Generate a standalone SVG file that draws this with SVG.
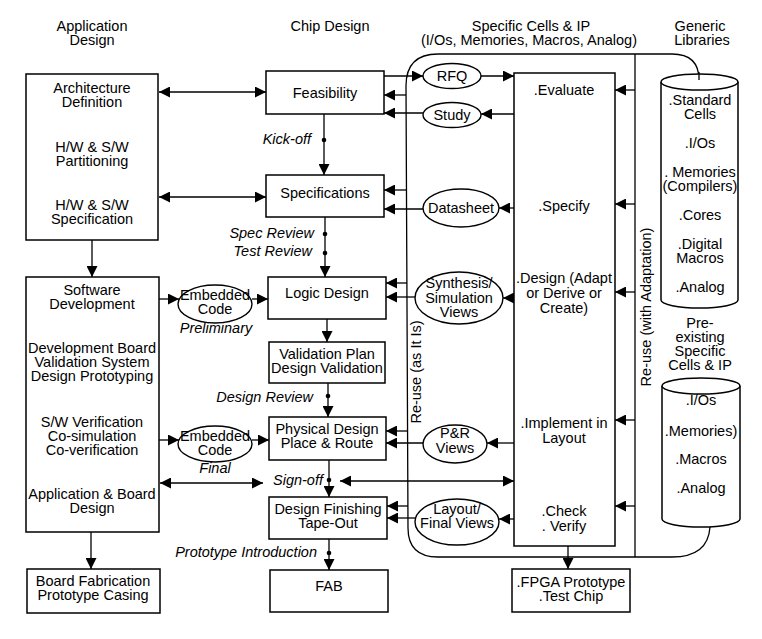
<svg xmlns="http://www.w3.org/2000/svg" width="762" height="639" viewBox="0 0 762 639">
<defs>
<marker id="ah" viewBox="0 0 11 11" refX="11" refY="5.5" markerWidth="11" markerHeight="11" markerUnits="userSpaceOnUse" orient="auto-start-reverse"><path d="M0,0 L11,5.5 L0,11 z" fill="#000"/></marker>
</defs>
<style>
text{font-family:"Liberation Sans",Arial,Helvetica,sans-serif;font-size:14.5px;fill:#000;text-anchor:middle}
.it{font-style:italic;text-anchor:end}
.itc{font-style:italic}
.box{fill:#fff;stroke:#000;stroke-width:1.5}
.el{fill:#fff;stroke:#000;stroke-width:1.4}
.ln{fill:none;stroke:#000;stroke-width:1.3}
.ar{fill:none;stroke:#000;stroke-width:1.3;marker-end:url(#ah)}
.da{fill:none;stroke:#000;stroke-width:1.3;marker-start:url(#ah);marker-end:url(#ah)}
.dot{fill:#000}
</style>
<rect width="762" height="639" fill="#fff"/>

<g id="headers">
<text x="92" y="31">Application</text><text x="92" y="45">Design</text>
<text x="330" y="31">Chip Design</text>
<text x="531" y="31">Specific Cells &amp; IP</text><text x="529" y="45">(I/Os, Memories, Macros, Analog)</text>
<text x="700" y="31">Generic</text><text x="702" y="45">Libraries</text>
</g>

<g id="connectors">
<path class="ln" d="M406 86 Q406 54 438 54 L672 54 Q699 54 699 80"/>
<path class="ln" d="M406 86 L408 528 Q408 557 438 557 L672 557 Q708 557 710 527"/>
<path class="ln" d="M635 54 L635 557"/>
<path class="ar" d="M324 114 L324 175"/>
<path class="ar" d="M325 217 L325 277"/>
<path class="ar" d="M327 319 L327 342"/>
<path class="ar" d="M328 383 L328 417"/>
<path class="ar" d="M329 460 L329 497"/>
<path class="ar" d="M329 539 L329 570"/>
<circle class="dot" cx="324" cy="140" r="2.3"/>
<circle class="dot" cx="325" cy="234" r="2.3"/>
<circle class="dot" cx="325" cy="253" r="2.3"/>
<circle class="dot" cx="328" cy="396" r="2.3"/>
<circle class="dot" cx="329" cy="480" r="2.3"/>
<circle class="dot" cx="329" cy="553" r="2.3"/>
<path class="ar" d="M92 240 L92 277"/>
<path class="ar" d="M91 532 L91 569"/>
<path class="da" d="M159 92 L266 92"/>
<path class="da" d="M159 197 L266 197"/>
<path class="da" d="M160 483 L263 483"/>
<path class="ar" d="M159 299 L179 299"/>
<path class="ar" d="M252 299 L268 299"/>
<path class="ar" d="M159 440 L179 440"/>
<path class="ar" d="M252 440 L269 440"/>
<path class="ar" d="M384 76 L423 76"/>
<path class="ar" d="M481 76 L514 76"/>
<path class="ar" d="M406 95 L384 95"/>
<path class="ar" d="M514 114 L481 114"/>
<path class="ar" d="M423 113 L384 113"/>
<path class="ar" d="M406 190 L384 190"/>
<path class="ar" d="M514 208 L499 208"/>
<path class="ar" d="M423 209 L384 209"/>
<path class="ar" d="M407 283 L386 283"/>
<path class="ar" d="M514 298 L503 298"/>
<path class="ar" d="M415 297 L386 297"/>
<path class="ar" d="M408 431 L386 431"/>
<path class="ar" d="M514 443 L487 443"/>
<path class="ar" d="M423 443 L386 443"/>
<path class="ar" d="M408 506 L387 506"/>
<path class="ar" d="M514 519 L499 519"/>
<path class="ar" d="M415 518 L387 518"/>
<path class="da" d="M340 481 L514 481"/>
<path class="ar" d="M635 90 L615 90"/>
<path class="ar" d="M635 204 L615 204"/>
<path class="ar" d="M635 292 L615 292"/>
<path class="ar" d="M635 420 L615 420"/>
<path class="ar" d="M635 506 L615 506"/>
<path class="ar" d="M568 546 L568 569"/>
</g>

<g id="labels">
<text class="it" x="311" y="144">Kick-off</text>
<text class="it" x="314" y="238">Spec Review</text>
<text class="it" x="312" y="256">Test Review</text>
<text class="itc" x="216" y="333">Preliminary</text>
<text class="it" x="313" y="402">Design Review</text>
<text class="itc" x="215" y="473">Final</text>
<text class="it" x="323" y="485">Sign-off</text>
<text class="it" x="317" y="557">Prototype Introduction</text>
<text transform="translate(421,372) rotate(-90)">Re-use (as It Is)</text>
<text transform="translate(651,307) rotate(-90)">Re-use (with Adaptation)</text>
<text x="700" y="328">Pre-</text><text x="700" y="342">existing</text><text x="700" y="356">Specific</text><text x="700" y="370">Cells &amp; IP</text>
</g>

<g id="arch">
<rect class="box" x="26" y="74" width="132" height="166"/>
<text x="92" y="93">Architecture</text><text x="92" y="107">Definition</text>
<text x="92" y="152">H/W &amp; S/W</text><text x="92" y="166">Partitioning</text>
<text x="92" y="210">H/W &amp; S/W</text><text x="92" y="224">Specification</text>
</g>
<g id="software">
<rect class="box" x="26" y="277" width="133" height="255"/>
<text x="92" y="295">Software</text><text x="92" y="309">Development</text>
<text x="92" y="353">Development Board</text><text x="92" y="367">Validation System</text><text x="92" y="381">Design Prototyping</text>
<text x="92" y="427">S/W Verification</text><text x="92" y="441">Co-simulation</text><text x="92" y="455">Co-verification</text>
<text x="92" y="499">Application &amp; Board</text><text x="92" y="513">Design</text>
</g>
<g id="board">
<rect class="box" x="27" y="569" width="133" height="44"/>
<text x="93" y="586">Board Fabrication</text><text x="93" y="600">Prototype Casing</text>
</g>

<g id="emb1"><ellipse class="el" cx="215" cy="304" rx="37" ry="19"/><text x="215" y="300">Embedded</text><text x="215" y="314">Code</text></g>
<g id="emb2"><ellipse class="el" cx="215" cy="444" rx="37" ry="18"/><text x="215" y="441">Embedded</text><text x="215" y="455">Code</text></g>

<g id="feasibility"><rect class="box" x="266" y="71" width="118" height="43"/><text x="325" y="98">Feasibility</text></g>
<g id="specifications"><rect class="box" x="266" y="175" width="118" height="42"/><text x="325" y="198">Specifications</text></g>
<g id="logic"><rect class="box" x="268" y="277" width="118" height="42"/><text x="327" y="298">Logic Design</text></g>
<g id="validation"><rect class="box" x="269" y="342" width="116" height="41"/><text x="327" y="359">Validation Plan</text><text x="327" y="373">Design Validation</text></g>
<g id="physical"><rect class="box" x="269" y="417" width="117" height="43"/><text x="327" y="434">Physical Design</text><text x="327" y="448">Place &amp; Route</text></g>
<g id="finishing"><rect class="box" x="269" y="497" width="118" height="42"/><text x="328" y="514">Design Finishing</text><text x="328" y="528">Tape-Out</text></g>
<g id="fab"><rect class="box" x="270" y="570" width="118" height="42"/><text x="329" y="591">FAB</text></g>

<g id="rfq"><ellipse class="el" cx="452" cy="76" rx="29" ry="12.5"/><text x="452" y="81">RFQ</text></g>
<g id="study"><ellipse class="el" cx="452" cy="115" rx="29" ry="12.5"/><text x="452" y="120">Study</text></g>
<g id="datasheet"><ellipse class="el" cx="461" cy="208" rx="38" ry="19"/><text x="461" y="213">Datasheet</text></g>
<g id="synthesis"><ellipse class="el" cx="459" cy="298" rx="44" ry="26"/><text x="459" y="288">Synthesis/</text><text x="459" y="303">Simulation</text><text x="459" y="317">Views</text></g>
<g id="pr"><ellipse class="el" cx="455" cy="444" rx="32" ry="19"/><text x="455" y="438">P&amp;R</text><text x="455" y="453">Views</text></g>
<g id="layoutviews"><ellipse class="el" cx="457" cy="522" rx="42" ry="23"/><text x="457" y="514">Layout/</text><text x="457" y="528">Final Views</text></g>

<g id="cellflow">
<rect class="box" x="514" y="73" width="101" height="473"/>
<text x="564" y="95">.Evaluate</text>
<text x="564" y="211">.Specify</text>
<text x="564" y="283">.Design (Adapt</text><text x="564" y="298">or Derive or</text><text x="564" y="313">Create)</text>
<text x="564" y="428">.Implement in</text><text x="564" y="443">Layout</text>
<text x="564" y="516">.Check</text><text x="564" y="531">. Verify</text>
</g>
<g id="fpga"><rect class="box" x="512" y="569" width="118" height="43"/><text x="571" y="587">.FPGA Prototype</text><text x="571" y="601">.Test Chip</text></g>

<g id="generic">
<path class="box" d="M661 82 L661 300 A38.5 8 0 0 0 738 300 L738 82"/>
<ellipse class="box" cx="699.5" cy="82" rx="38.5" ry="8"/>
<path class="ln" d="M699 72 L699 80"/>
<text x="700" y="105">.Standard</text><text x="700" y="119">Cells</text>
<text x="700" y="148">.I/Os</text>
<text x="700" y="177">. Memories</text><text x="700" y="191">(Compilers)</text>
<text x="700" y="220">.Cores</text>
<text x="700" y="249">.Digital</text><text x="700" y="263">Macros</text>
<text x="700" y="292">.Analog</text>
</g>
<g id="preexisting">
<path class="box" d="M662 386 L662 519 A39 8 0 0 0 740 519 L740 386"/>
<ellipse class="box" cx="701" cy="386" rx="39" ry="8"/>
<text x="701" y="405">.I/Os</text>
<text x="701" y="436">.Memories)</text>
<text x="701" y="464">.Macros</text>
<text x="701" y="493">.Analog</text>
</g>
</svg>
